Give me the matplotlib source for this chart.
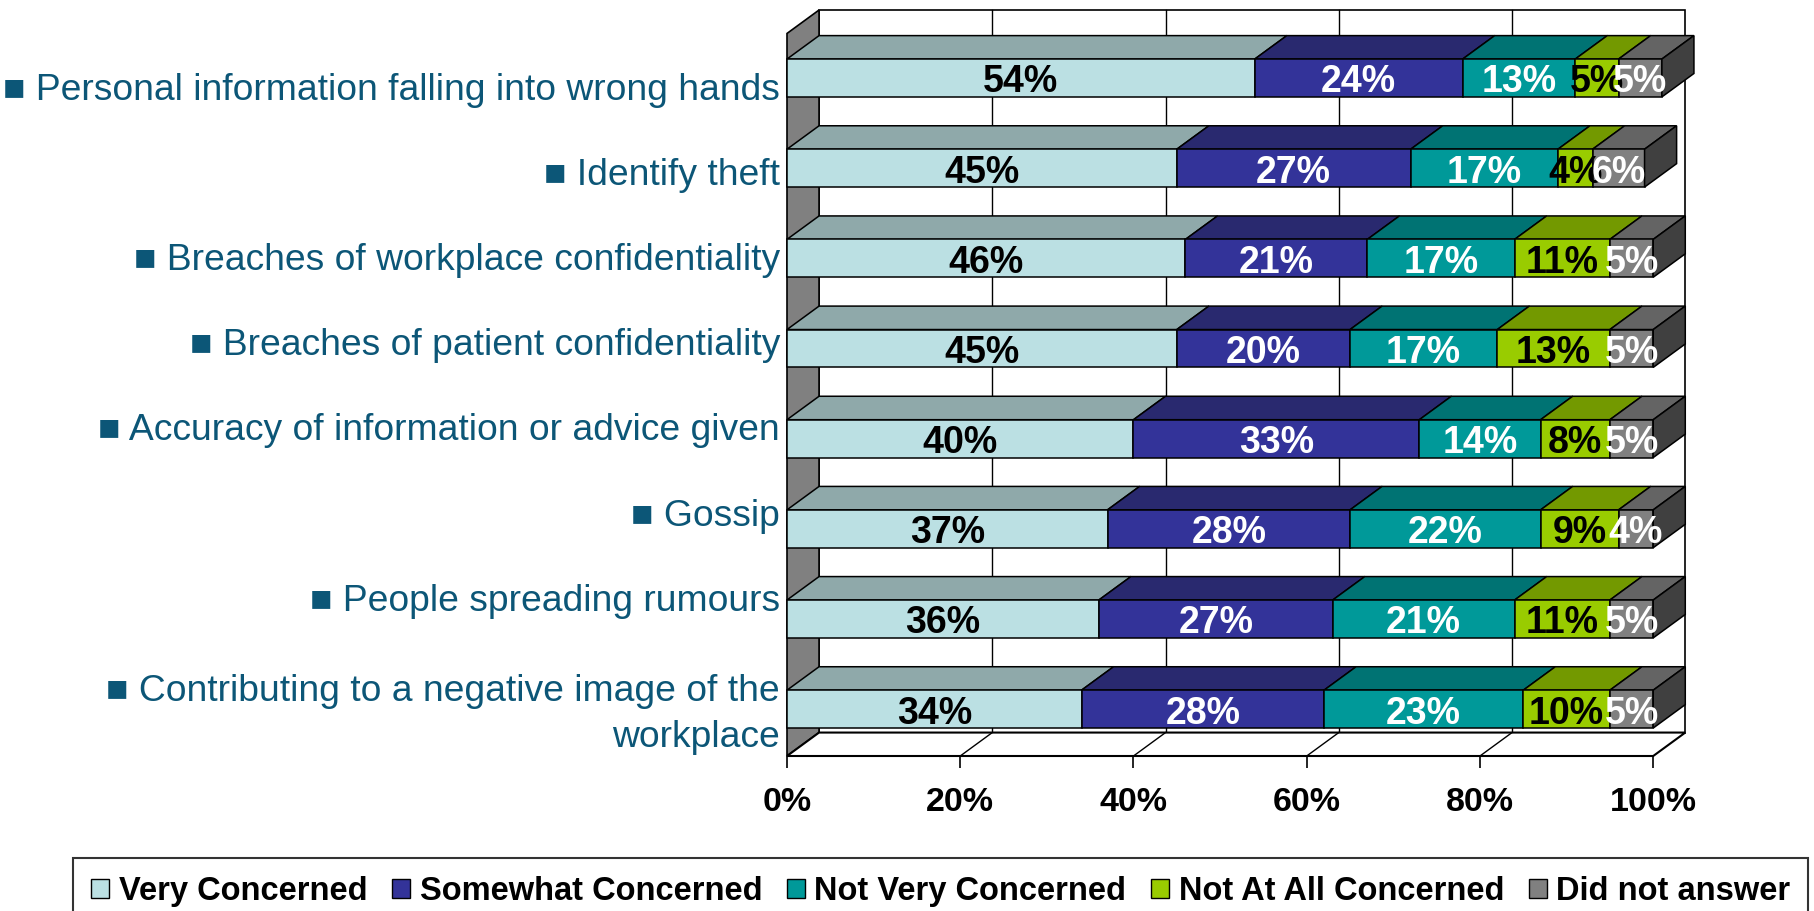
import matplotlib.pyplot as plt
from matplotlib.patches import Polygon, Rectangle

plt.rcParams['font.family'] = ['Liberation Sans', 'DejaVu Sans']

categories = [
    "Personal information falling into wrong hands",
    "Identify theft",
    "Breaches of workplace confidentiality",
    "Breaches of patient confidentiality",
    "Accuracy of information or advice given",
    "Gossip",
    "People spreading rumours",
    "Contributing to a negative image of the\nworkplace",
]
series = ["Very Concerned", "Somewhat Concerned", "Not Very Concerned",
          "Not At All Concerned", "Did not answer"]
very = [54, 45, 46, 45, 40, 37, 36, 34]
somewhat = [24, 27, 21, 20, 33, 28, 27, 28]
not_very = [13, 17, 17, 17, 14, 22, 21, 23]
not_at_all = [5, 4, 11, 13, 8, 9, 11, 10]
no_answer = [5, 6, 5, 5, 5, 4, 5, 5]
xticks = [0, 20, 40, 60, 80, 100]

front_colors = ['#BBE0E3', '#333399', '#009999', '#99CC00', '#808080']
top_colors = ['#8FA9AA', '#29296F', '#007373', '#739900', '#646464']
label_colors = ['black', 'white', 'white', 'black', 'white']
side_color = '#404040'
text_blue = '#0C5677'

# 3d box geometry (x in percent, y in category steps, y inverted)
DX = 3.7
DY = 0.26
HALF = 0.21
WALL_TOP = -0.754
FLOOR_FRONT = 7.52
FLOOR_BACK = FLOOR_FRONT - DY
# category labels sit on a slightly tighter spacing than the bars
LABEL_OFF = 0.09
LABEL_STEP = 0.945
LINE_GAP = 0.5

fig = plt.figure(figsize=(18.14, 9.11), dpi=100)
ax = fig.add_axes([787 / 1814, 1 - 756 / 911, 913 / 1814, 756 / 911])
ax.set_xlim(0, 105.4)
ax.set_ylim(FLOOR_FRONT, -0.865)
for s in ax.spines.values():
    s.set_visible(False)

# back wall with gridlines
ax.add_patch(Rectangle((DX, WALL_TOP), 100, FLOOR_BACK - WALL_TOP, facecolor='white',
                       edgecolor='black', lw=1.2, zorder=1))
for t in xticks[1:-1]:
    ax.plot([t + DX, t + DX], [WALL_TOP, FLOOR_BACK], color='black', lw=1, zorder=1.5)

# left wall
ax.add_patch(Polygon([(0, WALL_TOP + DY), (DX, WALL_TOP), (DX, FLOOR_BACK), (0, FLOOR_FRONT)],
                     closed=True, facecolor='#808080', edgecolor='black', lw=1.2,
                     zorder=2, clip_on=False))
# floor
ax.add_patch(Polygon([(0, FLOOR_FRONT), (100, FLOOR_FRONT), (100 + DX, FLOOR_BACK), (DX, FLOOR_BACK)],
                     closed=True, facecolor='white', edgecolor='black', lw=1.5,
                     zorder=2, clip_on=False))
for t in xticks[1:-1]:
    ax.plot([t, t + DX], [FLOOR_FRONT, FLOOR_BACK], color='black', lw=1, zorder=2.1)

data = [very, somewhat, not_very, not_at_all, no_answer]
for i in range(len(categories)):
    left = 0
    for k, vals in enumerate(data):
        v = vals[i]
        a, b = left, left + v
        top = i - HALF
        ax.add_patch(Polygon([(a, top), (b, top), (b + DX, top - DY), (a + DX, top - DY)],
                             closed=True, facecolor=top_colors[k], edgecolor='black',
                             lw=1.1, zorder=3, clip_on=False))
        ax.add_patch(Rectangle((a, top), v, 2 * HALF, facecolor=front_colors[k],
                               edgecolor='black', lw=1.1, zorder=3, clip_on=False))
        if k == len(data) - 1:
            ax.add_patch(Polygon([(b, top), (b + DX, top - DY), (b + DX, i + HALF - DY), (b, i + HALF)],
                                 closed=True, facecolor=side_color, edgecolor='black',
                                 lw=1.1, zorder=3, clip_on=False))
        ax.text((a + b) / 2, i + 0.05, f"{v}%", ha='center', va='center',
                fontsize=27, fontweight='bold', color=label_colors[k], zorder=5)
        left = b

label_pos = [LABEL_OFF + LABEL_STEP * i + c.count("\n") * LINE_GAP / 2
             for i, c in enumerate(categories)]
ax.set_yticks(label_pos)
ax.set_yticklabels(["\u25a0 " + c for c in categories], fontsize=26.8, color=text_blue,
                   linespacing=1.42)
ax.tick_params(axis='y', length=0, pad=5)
ax.set_xticks(xticks)
ax.set_xticklabels([f"{t}%" for t in xticks], fontsize=24.5, fontweight='bold')
ax.tick_params(axis='x', length=8.6, width=1.2, pad=14)

handles = [Rectangle((0, 0), 1, 1, facecolor=c, edgecolor='black', lw=1) for c in front_colors]
leg = fig.legend(handles, series, loc='upper left', bbox_to_anchor=(73 / 1814, 1 - 858 / 911),
                 ncol=5, prop={'weight': 'bold', 'size': 23.5},
                 handlelength=0.55, handleheight=0.55, handletextpad=0.3,
                 columnspacing=0.75, borderpad=0.55, borderaxespad=0,
                 frameon=True, fancybox=False, edgecolor='black')
leg.get_frame().set_linewidth(1.5)

fig.savefig('out.png', dpi=100)
